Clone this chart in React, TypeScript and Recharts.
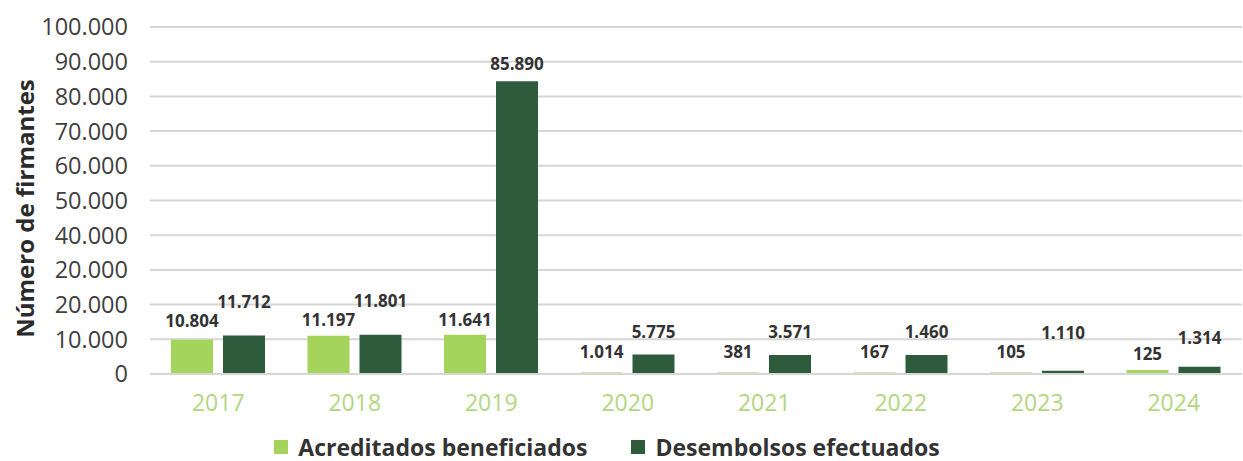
import { Bar, BarChart, CartesianGrid, LabelList, Legend, XAxis, YAxis } from "recharts";

const years = ["2017", "2018", "2019", "2020", "2021", "2022", "2023", "2024"];

// bar heights as drawn in the source chart
const acreditados = [9900, 11000, 11300, 450, 400, 400, 400, 1150];
const desembolsos = [11100, 11300, 84400, 5600, 5500, 5500, 950, 2100];

// printed data labels (they don't always match the drawn heights)
const acreditadosLabels = ["10.804", "11.197", "11.641", "1.014", "381", "167", "105", "125"];
const desembolsosLabels = ["11.712", "11.801", "85.890", "5.775", "3.571", "1.460", "1.110", "1.314"];

const yTicks = [0, 10000, 20000, 30000, 40000, 50000, 60000, 70000, 80000, 90000, 100000];
const yTickLabels = ["0", "10.000", "20.000", "20.000", "40.000", "50.000", "60.000", "70.000", "80.000", "90.000", "100.000"];

const LIGHT = "#a5d45c";
const DARK = "#2e5b3b";
const FONT = "'Open Sans', sans-serif";

// how far above each bar top the label sits (px), as placed in the original
const acredLift = [19, 16, 15, 21, 21, 21, 21, 17];
const desembLift = [34, 34, 18, 23, 23, 23, 38, 29];

const data = years.map((year, i) => ({
  year,
  acreditados: acreditados[i],
  desembolsos: desembolsos[i],
}));

function makeLabel(labels: string[], lifts: number[]) {
  return (props: any) => {
    const { x, y, width, index } = props;
    return (
      <text
        x={Number(x) + Number(width) / 2}
        y={Number(y) - lifts[index]}
        textAnchor="middle"
        dominantBaseline="central"
        fontFamily={FONT}
        fontWeight={700}
        fontSize={17}
        fill="#333333"
      >
        {labels[index]}
      </text>
    );
  };
}

function YTick(props: any) {
  const { y, payload } = props;
  const i = yTicks.indexOf(payload.value);
  return (
    <text x={128} y={y} dy="0.36em" textAnchor="end" fontFamily={FONT} fontSize={23.5} fill="#404040">
      {yTickLabels[i]}
    </text>
  );
}

function XTick(props: any) {
  const { x, y, payload } = props;
  return (
    <text x={x} y={y + 37} textAnchor="middle" fontFamily={FONT} fontSize={23} fill="#b3d681">
      {payload.value}
    </text>
  );
}

function LegendContent() {
  const items = [
    { name: "Acreditados beneficiados", color: LIGHT },
    { name: "Desembolsos efectuados", color: DARK },
  ];
  return (
    <div style={{ display: "flex", justifyContent: "center", gap: 44, marginLeft: -28, paddingTop: 10 }}>
      {items.map((it) => (
        <div key={it.name} style={{ display: "flex", alignItems: "center", gap: 10 }}>
          <span style={{ width: 14, height: 14, background: it.color, display: "inline-block" }} />
          <span style={{ fontFamily: FONT, fontWeight: 700, fontSize: 23, lineHeight: "26px", color: "#333333" }}>
            {it.name}
          </span>
        </div>
      ))}
    </div>
  );
}

export default function App() {
  return (
    <div style={{ position: "absolute", left: 0, top: 0, width: 1243, height: 461, background: "#fff" }}>
      <BarChart
        width={1243}
        height={461}
        data={data}
        margin={{ top: 27, right: 1, left: 0, bottom: 0 }}
        barGap={10}
        barSize={42}
      >
        <CartesianGrid horizontal vertical={false} stroke="#d6d6d6" strokeWidth={2} />
        <XAxis
          dataKey="year"
          axisLine={{ stroke: "#d6d6d6", strokeWidth: 2 }}
          tickLine={false}
          tickSize={0}
          tickMargin={0}
          height={50}
          tick={<XTick />}
        />
        <YAxis
          domain={[0, 100000]}
          ticks={yTicks}
          width={150}
          axisLine={false}
          tickLine={false}
          tick={<YTick />}
          label={{
            value: "Número de firmantes",
            angle: -90,
            position: "insideLeft",
            dx: 20,
            dy: 8,
            style: { fontFamily: FONT, fontWeight: 700, fontSize: 24, fill: "#2b2b2b", textAnchor: "middle" },
          }}
        />
        <Legend verticalAlign="bottom" height={37} content={<LegendContent />} />
        <Bar dataKey="acreditados" fill={LIGHT} isAnimationActive={false}>
          <LabelList dataKey="acreditados" content={makeLabel(acreditadosLabels, acredLift)} />
        </Bar>
        <Bar dataKey="desembolsos" fill={DARK} isAnimationActive={false}>
          <LabelList dataKey="desembolsos" content={makeLabel(desembolsosLabels, desembLift)} />
        </Bar>
      </BarChart>
    </div>
  );
}
